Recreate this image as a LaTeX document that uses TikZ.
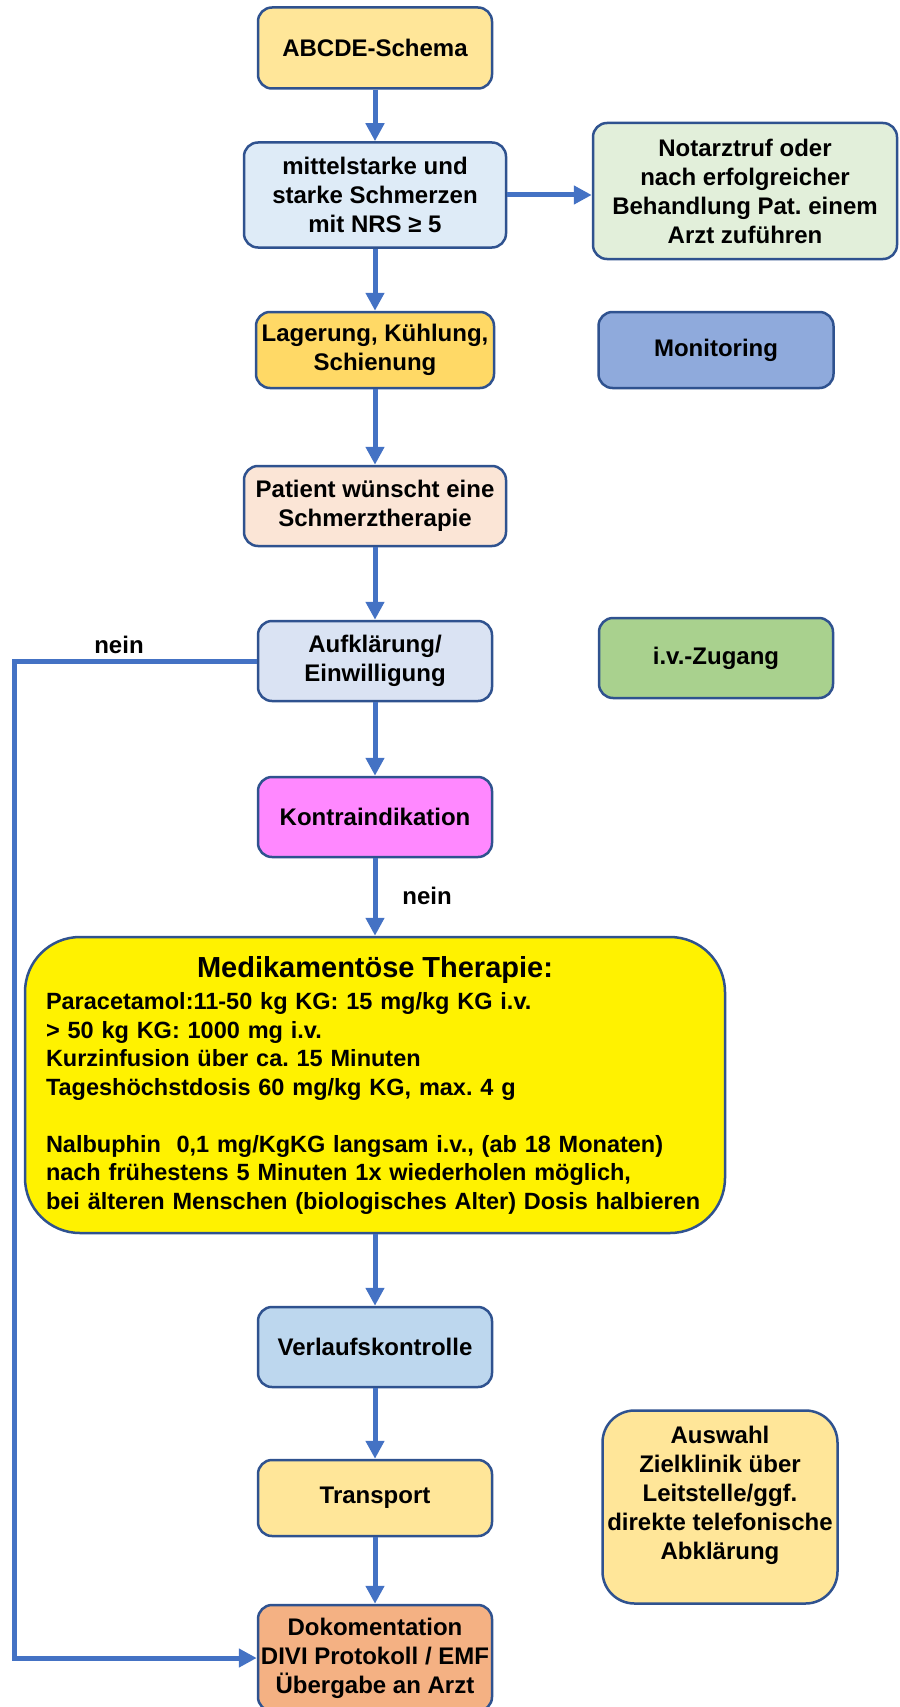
\documentclass[tikz,border=0pt]{standalone}
\usepackage{fontspec}
\setmainfont{Liberation Sans}
\usetikzlibrary{arrows.meta}

\definecolor{linie}{HTML}{4472C4}
\definecolor{rand}{HTML}{2F528F}
\definecolor{gold}{HTML}{FFE699}
\definecolor{hellblau}{HTML}{DEEBF7}
\definecolor{hellgruen}{HTML}{E2EFDA}
\definecolor{dunkelgold}{HTML}{FFD966}
\definecolor{mittelblau}{HTML}{8FAADC}
\definecolor{haut}{HTML}{FBE5D6}
\definecolor{blaugrau}{HTML}{DAE3F3}
\definecolor{gruen}{HTML}{A9D18E}
\definecolor{magenta}{HTML}{FF88FF}
\definecolor{eisblau}{HTML}{BDD7EE}
\definecolor{lachs}{HTML}{F4B183}

\frenchspacing
\begin{document}
\begin{tikzpicture}[x=1pt,y=-1pt,
    box/.style={draw=rand, line width=2.5pt, rounded corners=14pt, align=center, inner sep=0pt,
        font=\bfseries\fontsize{24}{29}\selectfont, minimum width=234pt, minimum height=80pt},
    flow/.style={draw=linie, line width=5pt, -{Triangle[length=18pt,width=18pt]}},
    lbl/.style={font=\bfseries\fontsize{24}{29}\selectfont}]
    \useasboundingbox (0,0) rectangle (899,1707);

    \node[box, fill=gold, minimum height=81pt] (abcde) at (375,48) {ABCDE-Schema};
    \node[box, fill=hellblau, minimum width=262pt, minimum height=105pt] (schmerz) at (375,195) {mittelstarke und\\starke Schmerzen\\mit NRS ≥ 5};
    \node[box, fill=hellgruen, minimum width=304pt, minimum height=136pt] (notarzt) at (745,191) {Notarztruf oder\\nach erfolgreicher\\Behandlung Pat. einem\\Arzt zuführen};
    \node[box, fill=dunkelgold, minimum width=238pt, minimum height=76pt] (lagerung) at (375,350) {Lagerung, Kühlung,\\Schienung};
    \node[box, fill=mittelblau, minimum width=235pt, minimum height=76pt] (monitoring) at (716,350) {Monitoring};
    \node[box, fill=haut, minimum width=262pt] (patient) at (375,506) {Patient wünscht eine\\Schmerztherapie};
    \node[box, fill=blaugrau] (aufklaerung) at (375,661) {Aufklärung/\\Einwilligung};
    \node[box, fill=gruen] (zugang) at (716,658) {i.v.-Zugang};
    \node[box, fill=magenta] (kontra) at (375,817) {Kontraindikation};
    \node[box, fill=yellow, rounded corners=55pt, minimum width=700pt, minimum height=296pt,
        font=\bfseries\fontsize{23.5}{28.5}\selectfont, align=left, text width=658pt] (therapie) at (375,1085) {\makebox[\linewidth]{\fontsize{29}{34}\selectfont Medikamentöse Therapie:}\\[4pt]
        Paracetamol:11-50 kg KG: 15 mg/kg KG i.v.\\
        > 50 kg KG: 1000 mg i.v.\\
        Kurzinfusion über ca. 15 Minuten\\
        Tageshöchstdosis 60 mg/kg KG, max. 4 g\\[28.5pt]
        Nalbuphin\ \ 0,1 mg/KgKG langsam i.v., (ab 18 Monaten)\\
        nach frühestens 5 Minuten 1x wiederholen möglich,\\
        \mbox{bei älteren Menschen (biologisches Alter) Dosis halbieren}};
    \node[box, fill=eisblau] (verlauf) at (375,1347) {Verlaufskontrolle};
    \node[box, fill=gold, minimum height=76pt] (transport) at (375,1498) {Transport};
    \node[box, fill=lachs, minimum height=106pt] (doku) at (375,1658) {Dokomentation\\DIVI Protokoll / EMF\\Übergabe an Arzt};
    \node[box, fill=gold, rounded corners=32pt, minimum width=235pt, minimum height=193pt] (auswahl) at (720,1507) {Auswahl\\Zielklinik über\\Leitstelle/ggf.\\direkte telefonische\\Abklärung\\\mbox{}};

    \node[lbl] (nein1) at (119,645) {nein};
    \node[lbl] (nein2) at (427,896) {nein};

    \draw[flow] (abcde) -- (schmerz);
    \draw[flow] (schmerz.east) -- (schmerz.east -| notarzt.west);
    \draw[flow] (schmerz) -- (lagerung);
    \draw[flow] (lagerung) -- (patient);
    \draw[flow] (patient) -- (aufklaerung);
    \draw[flow] (aufklaerung) -- (kontra);
    \draw[flow] (kontra) -- (therapie);
    \draw[flow] (therapie) -- (verlauf);
    \draw[flow] (verlauf) -- (transport);
    \draw[flow] (transport) -- (doku);
    \coordinate (links) at (14,0);
    \draw[flow] (aufklaerung.west) -- (aufklaerung.west -| links) |- (doku.west);
\end{tikzpicture}
\end{document}
